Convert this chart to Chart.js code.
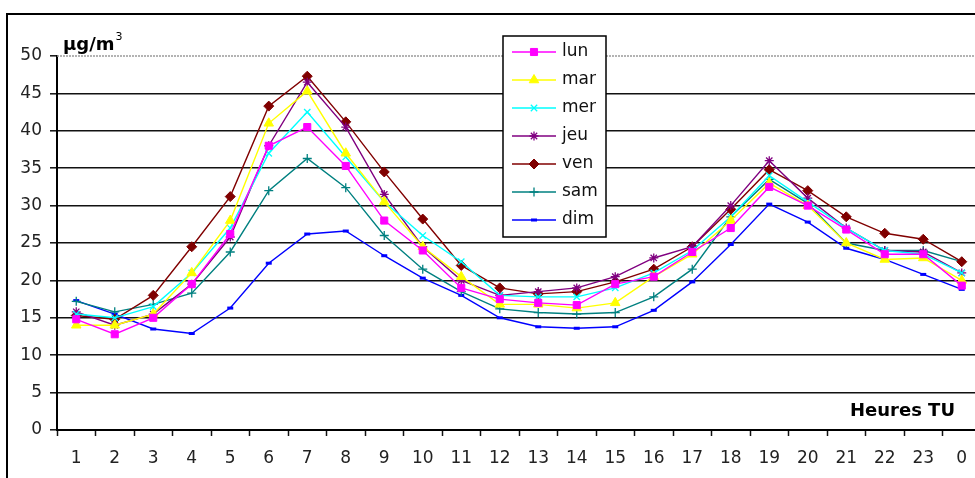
<!DOCTYPE html>
<html>
<head>
<meta charset="utf-8">
<style>
  html, body { margin: 0; padding: 0; background: #fff; overflow: hidden; }
  #wrap { position: relative; width: 975px; height: 478px; overflow: hidden; }
</style>
</head>
<body>
<div id="wrap"><canvas id="c" width="988" height="478"></canvas></div>
<script src="https://cdn.jsdelivr.net/npm/chart.js@4/dist/chart.umd.min.js"></script>
<script>
'use strict';

// ── DATA ──
const hours = ['1','2','3','4','5','6','7','8','9','10','11','12','13','14','15','16','17','18','19','20','21','22','23','0'];

const lun = [14.8, 12.8, 15.0, 19.5, 26.2, 38.0, 40.5, 35.3, 28.0, 24.0, 19.0, 17.5, 17.0, 16.7, 19.5, 20.5, 23.8, 27.0, 32.5, 30.0, 26.8, 23.5, 23.5, 19.3];
const mar = [14.0, 14.0, 15.5, 21.0, 28.0, 41.0, 45.3, 37.0, 30.5, 24.5, 20.5, 16.8, 16.8, 16.3, 17.0, 20.5, 23.5, 28.0, 33.0, 30.0, 25.0, 22.8, 23.0, 20.0];
const mer = [15.5, 15.0, 16.5, 21.0, 27.0, 37.0, 42.5, 36.5, 30.5, 26.0, 22.5, 18.0, 17.8, 17.8, 19.0, 21.0, 24.0, 28.5, 34.0, 30.5, 27.0, 24.0, 23.5, 21.0];
const jeu = [15.8, 14.0, 15.5, 19.5, 25.8, 38.0, 46.5, 40.5, 31.5, 24.5, 20.0, 18.0, 18.5, 19.0, 20.5, 23.0, 24.5, 30.0, 36.0, 31.0, 27.0, 24.0, 23.8, 21.0];
const ven = [15.3, 14.8, 18.0, 24.5, 31.2, 43.3, 47.3, 41.2, 34.5, 28.2, 22.0, 19.0, 18.2, 18.5, 19.8, 21.5, 24.5, 29.5, 34.8, 32.0, 28.5, 26.3, 25.5, 22.5];
const sam = [17.2, 15.8, 16.8, 18.3, 23.8, 32.0, 36.3, 32.4, 26.0, 21.5, 18.5, 16.2, 15.7, 15.5, 15.7, 17.8, 21.5, 28.5, 33.5, 30.3, 25.0, 24.0, 24.0, 22.5];
const dim = [17.3, 15.5, 13.5, 12.9, 16.3, 22.3, 26.2, 26.6, 23.3, 20.3, 18.0, 15.0, 13.8, 13.6, 13.8, 16.0, 19.8, 24.8, 30.2, 27.8, 24.3, 22.8, 20.8, 18.8];

const yTicks = [0, 5, 10, 15, 20, 25, 30, 35, 40, 45, 50];

const FONT = '"DejaVu Sans", Verdana, sans-serif';

// ── SERIES STYLE ──
const series = [
  { label: 'lun', data: lun, color: '#ff00ff', style: 'rect',     radius: 5,   bw: 1 },
  { label: 'mar', data: mar, color: '#ffff00', style: 'triangle', radius: 5.5, bw: 1 },
  { label: 'mer', data: mer, color: '#00ffff', style: 'crossRot', radius: 4.5, bw: 1.3 },
  { label: 'jeu', data: jeu, color: '#800080', style: 'star',     radius: 4.5, bw: 1.3 },
  { label: 'ven', data: ven, color: '#800000', style: 'rectRot',  radius: 5,   bw: 1 },
  { label: 'sam', data: sam, color: '#008080', style: 'cross',    radius: 4.5, bw: 1.3 },
  { label: 'dim', data: dim, color: '#0000ff', style: 'line',     radius: 3,   bw: 3 },
];

// ── DECORATIONS: frame, dotted top line, axis titles, legend ──
const decorations = {
  id: 'decorations',
  beforeDraw(chart) {
    const ctx = chart.ctx;
    ctx.save();
    ctx.strokeStyle = '#000';
    ctx.lineWidth = 2;
    ctx.strokeRect(7, 14, 2000, 2000);
    ctx.restore();
  },
  beforeDatasetsDraw(chart) {
    const { ctx, chartArea, scales } = chart;
    const y50 = scales.y.getPixelForValue(50);
    ctx.save();
    ctx.strokeStyle = '#9a9a9a';
    ctx.lineWidth = 1.5;
    ctx.setLineDash([2, 1]);
    ctx.beginPath();
    ctx.moveTo(chartArea.left, y50);
    ctx.lineTo(chartArea.right, y50);
    ctx.stroke();
    ctx.restore();
  },
  afterDraw(chart) {
    const ctx = chart.ctx;
    ctx.save();
    // unit label
    ctx.fillStyle = '#000';
    ctx.textBaseline = 'alphabetic';
    ctx.textAlign = 'left';
    ctx.font = 'bold 18px ' + FONT;
    ctx.fillText('µg/m', 63, 50);
    const w = ctx.measureText('µg/m').width;
    ctx.font = '11px ' + FONT;
    ctx.fillText('3', 63 + w + 1, 40);
    // x title
    ctx.font = 'bold 18px ' + FONT;
    ctx.textAlign = 'right';
    ctx.fillText('Heures TU', 955, 416);

    // legend box
    const bx = 503, by = 36, bw = 103, bh = 201;
    ctx.fillStyle = '#fff';
    ctx.fillRect(bx, by, bw, bh);
    ctx.strokeStyle = '#000';
    ctx.lineWidth = 1.5;
    ctx.strokeRect(bx, by, bw, bh);

    ctx.font = '17px ' + FONT;
    ctx.textAlign = 'left';
    ctx.textBaseline = 'middle';
    series.forEach((s, i) => {
      const y = 52 + i * 28;
      ctx.strokeStyle = s.color;
      ctx.lineWidth = 1.5;
      ctx.beginPath();
      ctx.moveTo(512, y);
      ctx.lineTo(556, y);
      ctx.stroke();
      ctx.fillStyle = s.color;
      ctx.strokeStyle = s.color;
      ctx.lineWidth = s.bw;
      Chart.helpers.drawPoint(ctx, { pointStyle: s.style, radius: s.radius, borderWidth: s.bw, rotation: 0 }, 534, y);
      ctx.fillStyle = '#111';
      ctx.fillText(s.label, 562, y);
    });
    ctx.restore();
  }
};

const datasets = series.map(s => ({
  label: s.label,
  data: s.data,
  borderColor: s.color,
  backgroundColor: s.color,
  borderWidth: 1.4,
  tension: 0,
  pointStyle: s.style,
  pointRadius: s.radius,
  pointBorderWidth: s.bw,
  pointBorderColor: s.color,
  pointBackgroundColor: s.color,
}));

new Chart(document.getElementById('c').getContext('2d'), {
  type: 'line',
  data: { labels: hours, datasets },
  options: {
    responsive: false,
    animation: false,
    layout: { padding: { top: 56, right: 0, left: 0, bottom: 0 } },
    plugins: { legend: { display: false }, tooltip: { enabled: false } },
    scales: {
      x: {
        offset: true,
        grid: { offset: true, drawOnChartArea: false, drawTicks: true, tickLength: 6, tickColor: '#111', tickWidth: 1.5 },
        border: { color: '#000', width: 2 },
        ticks: { color: '#222', font: { family: FONT, size: 17 }, padding: 12, maxRotation: 0, autoSkip: false },
        afterFit: (s) => { s.height = 48; },
      },
      y: {
        min: 0,
        max: 50,
        afterBuildTicks: (s) => { s.ticks = yTicks.map(v => ({ value: v })); },
        grid: {
          color: (c) => (c.tick && c.tick.value === 50 ? 'rgba(0,0,0,0)' : '#111'),
          lineWidth: 1.6,
          tickColor: '#111',
          tickLength: 7,
          tickWidth: 1.5,
        },
        border: { color: '#000', width: 2 },
        ticks: { color: '#222', font: { family: FONT, size: 17 }, padding: 8 },
        afterFit: (s) => { s.width = 57; },
      },
    },
  },
  plugins: [decorations],
});
</script>
</body>
</html>
